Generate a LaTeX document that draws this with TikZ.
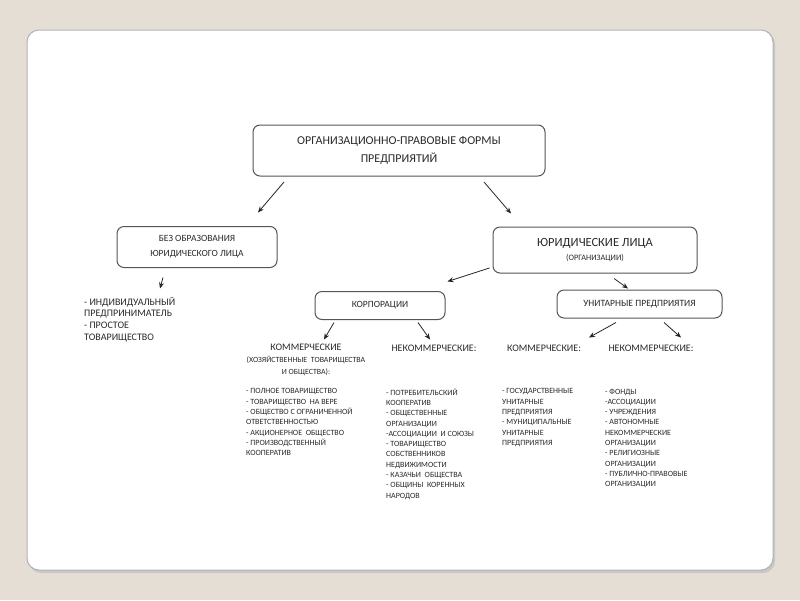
\documentclass[tikz,border=0pt]{standalone}
\usepackage{fontspec}
\setmainfont{Carlito}
\usetikzlibrary{arrows.meta}
\definecolor{bgc}{HTML}{E5DED4}
\definecolor{edge}{HTML}{555555}
\definecolor{txt}{HTML}{2A2A2A}
\begin{document}
\begin{tikzpicture}[x=1pt,y=-1pt,
 box/.style={draw=edge, line width=1pt, rounded corners=7pt, fill=white, inner sep=0, align=center, text=txt},
 arr/.style={-{Stealth[length=6pt,width=5pt]}, line width=0.8pt, draw=black!85},
 lst/.style={anchor=north west, inner sep=0, align=left, font=\fontsize{8}{10.3}\selectfont, text=txt},
 head/.style={inner sep=0, align=center, text=txt},
 ]
\fill[bgc] (0,0) rectangle (800,600);
\useasboundingbox (0,0) rectangle (800,600);
\fill[black!22, rounded corners=12pt] (29,32) rectangle (775,573);
\draw[draw=black!30, fill=white, rounded corners=12pt, line width=1pt] (27,30) rectangle (773,570);

\node[box, minimum width=292pt, minimum height=51pt, font=\fontsize{12}{18.5}\selectfont] (top) at (399,150.5)
  {ОРГАНИЗАЦИОННО-ПРАВОВЫЕ ФОРМЫ\\ПРЕДПРИЯТИЙ};
\node[box, minimum width=160pt, minimum height=41pt, font=\fontsize{9.5}{15}\selectfont] (bez) at (197,247)
  {БЕЗ ОБРАЗОВАНИЯ\\ЮРИДИЧЕСКОГО ЛИЦА};
\node[box, minimum width=204pt, minimum height=46pt] (yul) at (595,250)
  {{\fontsize{12.5}{14}\selectfont ЮРИДИЧЕСКИЕ ЛИЦА}\\[2pt]{\fontsize{8.3}{9}\selectfont (ОРГАНИЗАЦИИ)}};
\node[box, minimum width=130pt, minimum height=28pt, font=\fontsize{9.5}{10}\selectfont] (korp) at (380,305.5)
  {КОРПОРАЦИИ};
\node[box, minimum width=165pt, minimum height=28pt, font=\fontsize{9.6}{10}\selectfont] (unit) at (639.5,304)
  {УНИТАРНЫЕ ПРЕДПРИЯТИЯ};

\node[lst, font=\fontsize{10}{11.6}\selectfont] (ip) at (84,297)
  {- ИНДИВИДУАЛЬНЫЙ\\ПРЕДПРИНИМАТЕЛЬ\\- ПРОСТОЕ\\ТОВАРИЩЕСТВО};

\node[head, anchor=north] (kom1) at (306,343.5)
  {{\fontsize{10}{11}\selectfont КОММЕРЧЕСКИЕ}\\[0pt]{\fontsize{7.9}{11.5}\selectfont (ХОЗЯЙСТВЕННЫЕ\ \ ТОВАРИЩЕСТВА}\\{\fontsize{7.9}{11}\selectfont И ОБЩЕСТВА):}};
\node[head, font=\fontsize{10}{11}\selectfont] (nek1) at (434,348) {НЕКОММЕРЧЕСКИЕ:};
\node[head, font=\fontsize{10}{11}\selectfont] (kom2) at (544,348) {КОММЕРЧЕСКИЕ:};
\node[head, font=\fontsize{10}{11}\selectfont] (nek2) at (651,348) {НЕКОММЕРЧЕСКИЕ:};

\node[lst] (l1) at (246,388.5)
  {- ПОЛНОЕ ТОВАРИЩЕСТВО\\- ТОВАРИЩЕСТВО\ \ НА ВЕРЕ\\- ОБЩЕСТВО С ОГРАНИЧЕННОЙ\\ОТВЕТСТВЕННОСТЬЮ\\- АКЦИОНЕРНОЕ\ \ ОБЩЕСТВО\\- ПРОИЗВОДСТВЕННЫЙ\\КООПЕРАТИВ};
\node[lst] (l2) at (386,388.5)
  {- ПОТРЕБИТЕЛЬСКИЙ\\КООПЕРАТИВ\\- ОБЩЕСТВЕННЫЕ\\ОРГАНИЗАЦИИ\\-АССОЦИАЦИИ\ \ И СОЮЗЫ\\- ТОВАРИЩЕСТВО\\СОБСТВЕННИКОВ\\НЕДВИЖИМОСТИ\\- КАЗАЧЬИ\ \ ОБЩЕСТВА\\- ОБЩИНЫ\ \ КОРЕННЫХ\\НАРОДОВ};
\node[lst] (l3) at (502,388.5)
  {- ГОСУДАРСТВЕННЫЕ\\УНИТАРНЫЕ\\ПРЕДПРИЯТИЯ\\- МУНИЦИПАЛЬНЫЕ\\УНИТАРНЫЕ\\ПРЕДПРИЯТИЯ};
\node[lst] (l4) at (605,388.5)
  {- ФОНДЫ\\-АССОЦИАЦИИ\\- УЧРЕЖДЕНИЯ\\- АВТОНОМНЫЕ\\НЕКОММЕРЧЕСКИЕ\\ОРГАНИЗАЦИИ\\- РЕЛИГИОЗНЫЕ\\ОРГАНИЗАЦИИ\\- ПУБЛИЧНО-ПРАВОВЫЕ\\ОРГАНИЗАЦИИ};

\draw[arr] ([shift={(-115,5.5)}]top.south) -- ([shift={(61,-13.5)}]bez.north);
\draw[arr] ([shift={(85,5.5)}]top.south) -- ([shift={(-84,-13)}]yul.north);
\draw[arr] ([shift={(-34,9.5)}]bez.south) -- ([shift={(-37,20.5)}]bez.south);
\draw[arr] ([shift={(-3,18)}]yul.west) -- ([shift={(2,-9.5)}]korp.north east);
\draw[arr] ([shift={(19,5)}]yul.south) -- ([shift={(-11.5,-1)}]unit.north);
\draw[arr] ([shift={(-46,2.5)}]korp.south) -- ([shift={(-56,19.5)}]korp.south);
\draw[arr] ([shift={(38,2.5)}]korp.south) -- ([shift={(50,19.5)}]korp.south);
\draw[arr] ([shift={(-23.5,4)}]unit.south) -- ([shift={(-50.5,19)}]unit.south);
\draw[arr] ([shift={(24.5,4)}]unit.south) -- ([shift={(41.5,19)}]unit.south);
\end{tikzpicture}
\end{document}
